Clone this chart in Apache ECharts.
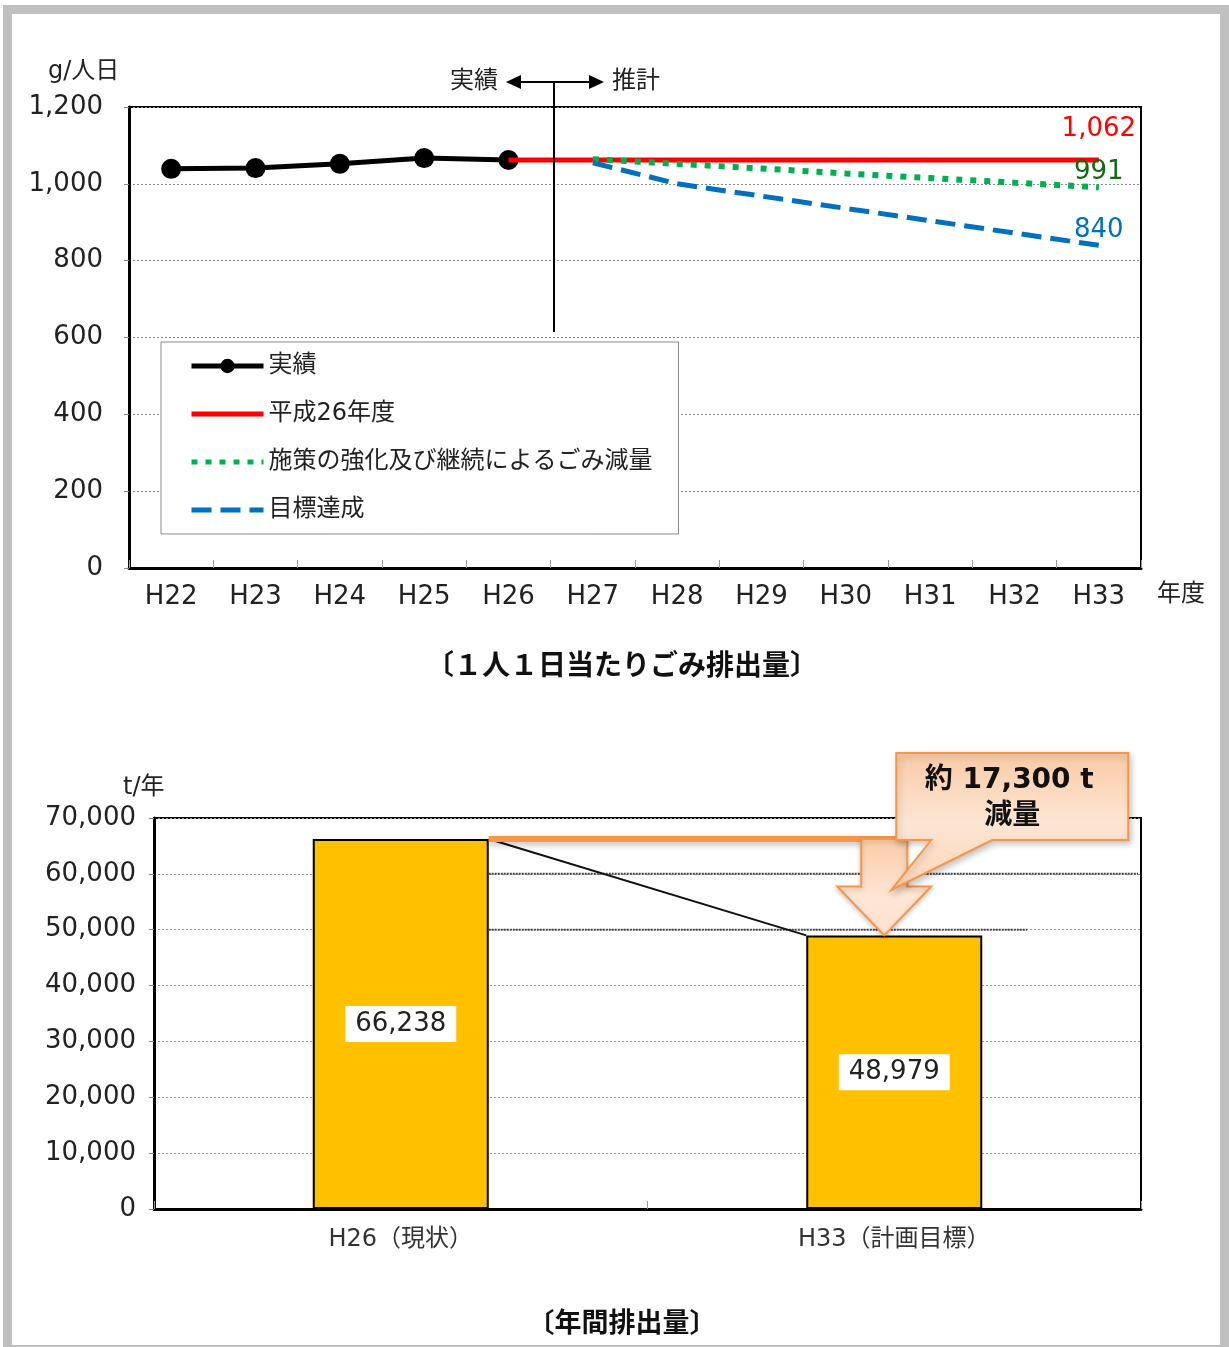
<!DOCTYPE html>
<html>
<head>
<meta charset="utf-8">
<title>ごみ排出量の見通し</title>
<script src="https://cdn.jsdelivr.net/npm/echarts@6.0.0/dist/echarts.min.js"></script>
<style>
  html, body { margin: 0; padding: 0; background: #fff; }
  #frame { position: absolute; left: 3px; top: 5px; width: 1226px; height: 1342px; background: #C0C0C0; }
  #paper { position: absolute; left: 12px; top: 14px; width: 1208px; height: 1331px; background: #fff; }
  #c { position: absolute; left: 0; top: 0; width: 1229px; height: 1347px; }
</style>
</head>
<body>
<div id="frame"></div>
<div id="paper"></div>
<div id="c"></div>
<script>
// ---- 1人1日当たりごみ排出量 (g/人日) ----
const years = ['H22', 'H23', 'H24', 'H25', 'H26', 'H27', 'H28', 'H29', 'H30', 'H31', 'H32', 'H33'];
const actual   = [1039, 1041, 1052, 1067, 1062, null, null, null, null, null, null, null];
const baseline = [null, null, null, null, 1062, 1062, 1062, 1062, 1062, 1062, 1062, 1062];
const measures = [null, null, null, null, null, 1064, 1052, 1040, 1027, 1015, 1003, 991];
const target   = [null, null, null, null, null, 1055, 1000, 968, 936, 904, 872, 840];
const seriesNames = ['実績', '平成26年度', '施策の強化及び継続によるごみ減量', '目標達成'];
const perDayTicks = { min: 0, max: 1200, interval: 200 };

// ---- 年間排出量 (t/年) ----
const annualCats = ['H26（現状）', 'H33（計画目標）'];
const annualValues = [66238, 48979];
const annualTicks = { min: 0, max: 70000, interval: 10000 };
const reductionText = ['約 17,300 t', '減量'];

const FONT = "'DejaVu Sans', 'Noto Sans CJK JP', sans-serif";
const JP = "'Noto Sans CJK JP', sans-serif";
const fmt = v => String(v).replace(/\B(?=(\d{3})+(?!\d))/g, ',');

// value label on the final point of a projection series (other points stay bare)
function withEndLabel(arr, color, distance) {
  const last = arr.length - 1;
  return arr.map((v, i) => i === last ? {
    value: v,
    label: { show: true, position: 'top', distance: distance, color: color,
             fontSize: 26, fontFamily: FONT, formatter: p => fmt(p.value) }
  } : v);
}

const chart = echarts.init(document.getElementById('c'), null, { renderer: 'canvas' });

// legend entries: thick strokes, marker only for the actual series
const legendData = seriesNames.map((n, i) => ({
  name: n,
  lineStyle: { width: 5 },
  itemStyle: i === 0 ? { color: '#000' } : { color: 'rgba(0,0,0,0)', borderWidth: 0 }
}));

const option = {
  animation: false,
  backgroundColor: 'transparent',
  grid: [
    { left: 129, top: 107, width: 1012, height: 461, show: true, borderColor: '#000', borderWidth: 2,
      backgroundColor: 'transparent', outerBoundsMode: 'none' },
    { left: 154, top: 818, width: 987, height: 391, show: true, borderColor: '#000', borderWidth: 2,
      backgroundColor: 'transparent', outerBoundsMode: 'none' }
  ],
  legend: {
    data: legendData,
    orient: 'vertical',
    left: 161, top: 342,
    backgroundColor: '#fff', borderColor: '#8a8a8a', borderWidth: 1,
    padding: [12, 26, 12, 28],
    itemGap: 24, itemWidth: 72, itemHeight: 18,
    textStyle: { fontSize: 24, fontFamily: FONT, color: '#222' },
    selectedMode: false
  },
  xAxis: [
    { type: 'category', gridIndex: 0, data: years, boundaryGap: true,
      axisLine: { lineStyle: { color: '#000', width: 3 } },
      axisTick: { show: true, inside: true, length: 8, lineStyle: { color: '#999', width: 1 } },
      axisLabel: { fontSize: 26, fontFamily: FONT, color: '#222', margin: 16 },
      splitLine: { show: false } },
    { type: 'category', gridIndex: 1, data: annualCats, boundaryGap: true,
      axisLine: { lineStyle: { color: '#000', width: 3 } },
      axisTick: { show: true, inside: true, length: 8, lineStyle: { color: '#999', width: 1 } },
      axisLabel: { fontSize: 24, fontFamily: FONT, color: '#333', margin: 19 },
      splitLine: { show: false } }
  ],
  yAxis: [
    { type: 'value', gridIndex: 0, min: perDayTicks.min, max: perDayTicks.max, interval: perDayTicks.interval,
      axisLine: { show: true, lineStyle: { color: '#000', width: 3 } },
      axisTick: { show: true, length: 5, lineStyle: { color: '#888' } },
      axisLabel: { fontSize: 26, fontFamily: FONT, color: '#222', margin: 26, padding: [4, 0, 0, 0], formatter: v => fmt(v) },
      splitLine: { show: true, lineStyle: { color: '#888', width: 1, type: [2, 2] } } },
    { type: 'value', gridIndex: 1, min: annualTicks.min, max: annualTicks.max, interval: annualTicks.interval,
      axisLine: { show: true, lineStyle: { color: '#000', width: 3 } },
      axisTick: { show: true, length: 5, lineStyle: { color: '#888' } },
      axisLabel: { fontSize: 26, fontFamily: FONT, color: '#222', margin: 18, padding: [3, 0, 0, 0], formatter: v => fmt(v) },
      splitLine: { show: true, lineStyle: { color: '#999', width: 1, type: [2, 2] } } }
  ],
  series: [
    { name: seriesNames[0], type: 'line', xAxisIndex: 0, yAxisIndex: 0, data: actual,
      symbol: 'circle', symbolSize: 20, connectNulls: false,
      lineStyle: { color: '#000', width: 5 }, itemStyle: { color: '#000' }, z: 3 },
    { name: seriesNames[1], type: 'line', xAxisIndex: 0, yAxisIndex: 0,
      data: withEndLabel(baseline, '#FF0000', 18),
      symbol: 'circle', symbolSize: 0, showSymbol: true,
      lineStyle: { color: '#FF0000', width: 5 }, itemStyle: { color: '#FF0000' }, z: 4 },
    { name: seriesNames[2], type: 'line', xAxisIndex: 0, yAxisIndex: 0,
      data: withEndLabel(measures, '#116B11', 2),
      symbol: 'circle', symbolSize: 0, showSymbol: true,
      lineStyle: { color: '#00B050', width: 6, type: [6, 8] }, itemStyle: { color: '#00B050' }, z: 5 },
    { name: seriesNames[3], type: 'line', xAxisIndex: 0, yAxisIndex: 0,
      data: withEndLabel(target, '#0070C0', 2),
      symbol: 'circle', symbolSize: 0, showSymbol: true,
      lineStyle: { color: '#0070C0', width: 5, type: [20, 9] }, itemStyle: { color: '#0070C0' }, z: 6 },
    { name: '年間排出量', type: 'bar', xAxisIndex: 1, yAxisIndex: 1, data: annualValues,
      barWidth: 176,
      itemStyle: { color: '#FFC000', borderColor: '#000', borderWidth: 2 },
      label: { show: true, position: 'inside', backgroundColor: '#fff', color: '#222',
               fontSize: 26, fontFamily: FONT, padding: [5, 10], formatter: p => fmt(p.value) },
      z: 3 }
  ]
};
chart.setOption(option);

// ---- annotations placed from the axes' own scales ----
const px = (si, x, y) => chart.convertToPixel({ seriesIndex: si }, [x, y]);
const g = [];
const txt = (x, y, s, o) => g.push({ type: 'text', x, y, z: 20,
  style: Object.assign({ text: s, font: '24px ' + FONT, fill: '#222', textAlign: 'left', textVerticalAlign: 'middle' }, o || {}) });

// axis units and captions
txt(48, 72, 'g/人日', { font: '24px ' + FONT });
txt(1157, 595, '年度', { font: '24px ' + FONT });
txt(123, 788, 't/年', { font: '24px ' + FONT });
txt(622, 664, '〔１人１日当たりごみ排出量〕', { font: 'bold 28px ' + JP, textAlign: 'center', fill: '#111' });
txt(622, 1322, '〔年間排出量〕', { font: 'bold 27px ' + JP, textAlign: 'center', fill: '#111' });

// actual / projection divider
const xH26 = px(0, 4, 0)[0], xH27 = px(0, 5, 0)[0];
const divX = Math.round((xH26 + xH27) / 2) + 3;
g.push({ type: 'line', z: 20, shape: { x1: divX, y1: 82, x2: divX, y2: 332 }, style: { stroke: '#000', lineWidth: 2 } });
g.push({ type: 'line', z: 20, shape: { x1: divX - 34, y1: 82, x2: divX + 36, y2: 82 }, style: { stroke: '#000', lineWidth: 2 } });
g.push({ type: 'polygon', z: 20, shape: { points: [[divX - 48, 82], [divX - 33, 75], [divX - 33, 89]] }, style: { fill: '#000' } });
g.push({ type: 'polygon', z: 20, shape: { points: [[divX + 50, 82], [divX + 35, 75], [divX + 35, 89]] }, style: { fill: '#000' } });
txt(divX - 56, 82, '実績', { textAlign: 'right' });
txt(divX + 58, 82, '推計', { textAlign: 'left' });

// annual chart: reduction arrow and callout
const half = 88;
const p26 = px(4, 0, annualValues[0]);
const p33 = px(4, 1, annualValues[1]);
const y60 = px(4, 0, 60000)[1], y50 = px(4, 0, 50000)[1];
const gridRight = 154 + 987;
g.push({ type: 'line', z: 4, shape: { x1: p26[0] + half, y1: y60, x2: gridRight - 3, y2: y60 }, style: { stroke: '#444', lineWidth: 2, lineDash: [2, 1] } });
g.push({ type: 'line', z: 4, shape: { x1: p26[0] + half, y1: y50, x2: p33[0] + half + 45, y2: y50 }, style: { stroke: '#444', lineWidth: 2, lineDash: [2, 1] } });
g.push({ type: 'line', z: 5, shape: { x1: p26[0] + half, y1: p26[1], x2: p33[0] - half, y2: p33[1] }, style: { stroke: '#111', lineWidth: 2 } });

const ax = p33[0] - 10;          // arrow centre
const yTop = p26[1];             // level of current emissions
const yTip = p33[1];             // level of target emissions
g.push({ type: 'line', z: 6, shape: { x1: p26[0] + half, y1: yTop, x2: ax + 23, y2: yTop },
  style: { stroke: '#F79646', lineWidth: 6, shadowBlur: 6, shadowOffsetY: 3, shadowColor: 'rgba(0,0,0,0.25)' } });
g.push({ type: 'polygon', z: 7, shape: { points: [
    [ax - 23, yTop], [ax + 23, yTop], [ax + 23, yTip - 49], [ax + 47, yTip - 49],
    [ax, yTip], [ax - 47, yTip - 49], [ax - 23, yTip - 49]] },
  style: { fill: new echarts.graphic.LinearGradient(0, 0, 0, 1, [
      { offset: 0, color: '#F9CBA7' }, { offset: 0.6, color: '#FDE6D4' }, { offset: 1, color: '#FCE2CE' }]),
    stroke: '#F79646', lineWidth: 2, shadowBlur: 5, shadowOffsetY: 2, shadowColor: 'rgba(0,0,0,0.2)' } });

const bx0 = ax + 12, bx1 = ax + 244, by1 = yTop + 1, by0 = by1 - 87;
g.push({ type: 'polygon', z: 8, shape: { points: [
    [bx0, by0], [bx1, by0], [bx1, by1], [ax + 108, by1], [ax + 7, yTop + 51], [ax + 47, by1], [bx0, by1]] },
  style: { fill: new echarts.graphic.LinearGradient(0, 0, 0, 1, [
      { offset: 0, color: '#F9CAA5' }, { offset: 0.5, color: '#FDE5D3' }, { offset: 1, color: '#FBD6B9' }]),
    stroke: '#F79646', lineWidth: 2, shadowBlur: 6, shadowOffsetX: 2, shadowOffsetY: 3, shadowColor: 'rgba(0,0,0,0.22)' } });
txt((bx0 + bx1) / 2 - 3, by0 + 28, reductionText[0], { font: 'bold 28px ' + FONT, textAlign: 'center', fill: '#111' });
txt((bx0 + bx1) / 2, by0 + 60, reductionText[1], { font: 'bold 28px ' + JP, textAlign: 'center', fill: '#111' });

chart.setOption({ graphic: { elements: g } });
</script>
</body>
</html>
